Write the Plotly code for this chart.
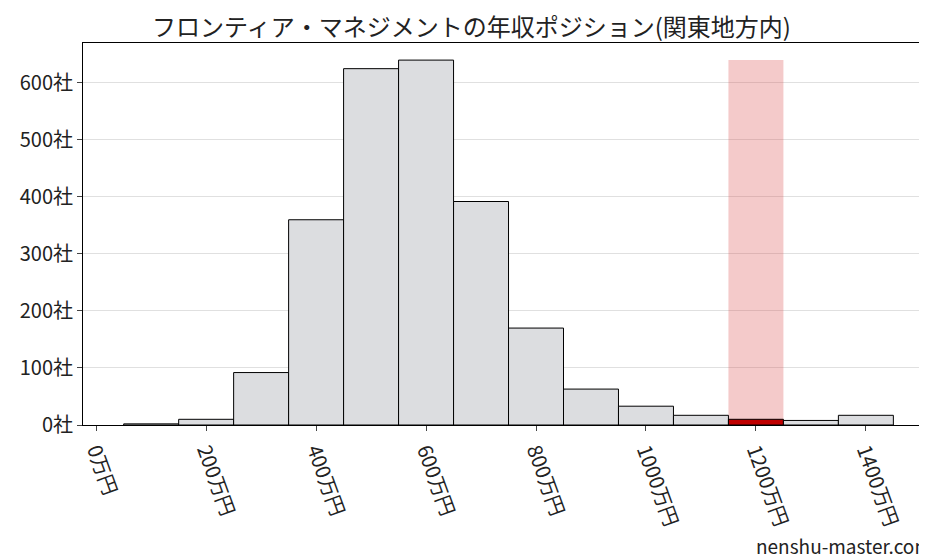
import plotly.graph_objects as go

centers = [100, 200, 300, 400, 500, 600, 700, 800, 900, 1000, 1100, 1200, 1300, 1400]
counts = [2, 10, 92, 360, 625, 640, 392, 170, 63, 33, 17, 10, 8, 17]
highlight = 1200
xticks = [0, 200, 400, 600, 800, 1000, 1200, 1400]
xlabels = [f"{v}万円" for v in xticks]
yticks = [0, 100, 200, 300, 400, 500, 600]
ylabels = [f"{v}社" for v in yticks]

font = "Noto Sans CJK JP"
fig = go.Figure()
fig.add_bar(x=[highlight], y=[max(counts)], width=100, marker_color="rgba(220,80,80,0.3)",
            marker_line_width=0, hoverinfo="skip")
colors = ["#c00000" if c == highlight else "#dcdde0" for c in centers]
fig.add_bar(x=centers, y=counts, width=100, marker_color=colors,
            marker_line_color="black", marker_line_width=1)
fig.update_layout(
    width=927, height=557, barmode="overlay", showlegend=False,
    plot_bgcolor="white", paper_bgcolor="white",
    margin=dict(l=75, r=7, t=35, b=140, autoexpand=False),
    font=dict(family=font, size=20, color="#222"),
    title=dict(text="フロンティア・マネジメントの年収ポジション(関東地方内)", x=0.5, y=0.965,
               xanchor="center", yanchor="middle", font=dict(size=24)),
    annotations=[dict(text="nenshu-master.com", x=0.9, xref="paper", xanchor="center",
                      y=-0.316, yref="paper", yanchor="middle", showarrow=False,
                      font=dict(size=19))],
)
fig.update_xaxes(range=[-24, 1513], tickvals=xticks, ticktext=xlabels, tickangle=70,
                 showline=True, linecolor="black", mirror=True, ticks="outside",
                 showgrid=False, zeroline=False, automargin=False)
fig.update_yaxes(range=[0, 670], tickvals=yticks, ticktext=ylabels,
                 showline=True, linecolor="black", mirror=True, ticks="outside",
                 gridcolor="#e0e0e0", zeroline=False, automargin=False)
fig.write_html("out.html")
